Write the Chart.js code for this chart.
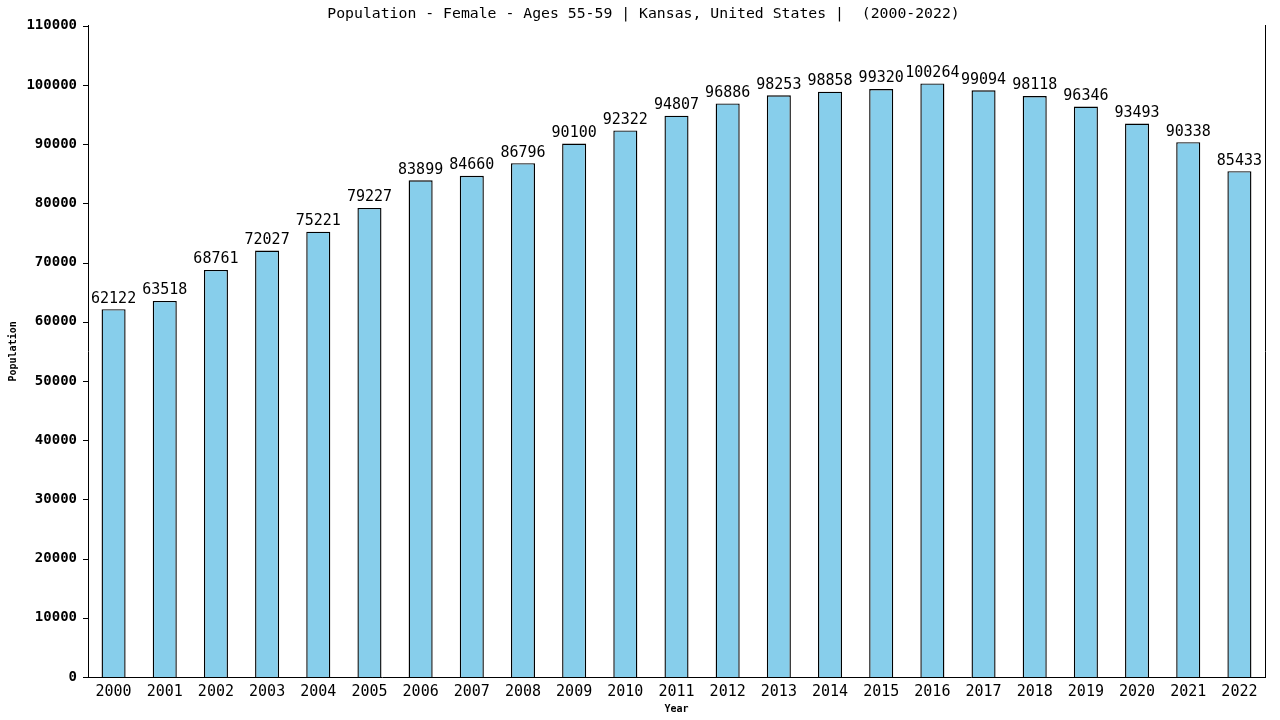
<!DOCTYPE html>
<html>
<head>
<meta charset="utf-8">
<script src="https://cdn.jsdelivr.net/npm/chart.js@4/dist/chart.umd.min.js"></script>
<style>
  html, body { margin: 0; padding: 0; background: #fff; }
  #wrap { width: 1280px; height: 720px; }
</style>
</head>
<body>
<div id="wrap"><canvas id="chart" width="1280" height="720"></canvas></div>
<script>
// data
const years = ['2000', '2001', '2002', '2003', '2004', '2005', '2006', '2007', '2008', '2009', '2010', '2011',
  '2012', '2013', '2014', '2015', '2016', '2017', '2018', '2019', '2020', '2021', '2022'];
const population = [62122, 63518, 68761, 72027, 75221, 79227, 83899, 84660, 86796, 90100, 92322, 94807,
  96886, 98253, 98858, 99320, 100264, 99094, 98118, 96346, 93493, 90338, 85433];
const yMax = 110000;
const yStep = 10000;

const mono = 'DejaVu Sans Mono, monospace';

// prints the value above each bar
const valueLabels = {
  id: 'valueLabels',
  afterDatasetsDraw(chart) {
    const ctx = chart.ctx;
    const meta = chart.getDatasetMeta(0);
    ctx.save();
    ctx.font = '15px ' + mono;
    ctx.fillStyle = '#000';
    ctx.textAlign = 'center';
    ctx.textBaseline = 'bottom';
    meta.data.forEach((bar, i) => {
      ctx.fillText(String(population[i]), bar.x, bar.y - 3);
    });
    ctx.restore();
  }
};

// small tick marks on the outside of the left axis
const yTickMarks = {
  id: 'yTickMarks',
  afterDraw(chart) {
    const ctx = chart.ctx;
    const y = chart.scales.y;
    const left = chart.chartArea.left;
    ctx.save();
    ctx.strokeStyle = '#000';
    ctx.lineWidth = 1;
    ctx.beginPath();
    y.ticks.forEach((t) => {
      const py = Math.round(y.getPixelForValue(t.value)) + 0.5;
      ctx.moveTo(left - 5, py);
      ctx.lineTo(left, py);
    });
    ctx.stroke();
    ctx.restore();
  }
};

const ctx = document.getElementById('chart').getContext('2d');
new Chart(ctx, {
  type: 'bar',
  data: {
    labels: years,
    datasets: [{
      data: population,
      backgroundColor: '#87CEEB',
      borderColor: '#000',
      borderWidth: 1.4,
      borderSkipped: 'bottom',
      barPercentage: 0.47,
      categoryPercentage: 1.0,
    }],
  },
  options: {
    responsive: false,
    devicePixelRatio: 1,
    animation: false,
    layout: { padding: { left: 7, bottom: 5 } },
    plugins: {
      legend: { display: false },
      tooltip: { enabled: false },
      title: {
        display: true,
        text: 'Population - Female - Ages 55-59 | Kansas, United States |  (2000-2022)',
        color: '#000',
        font: { family: mono, size: 14.8, weight: 'normal' },
        padding: { top: 5, bottom: 3 },
      },
    },
    scales: {
      x: {
        grid: { display: false, drawTicks: false },
        border: { display: true, color: '#000', width: 1 },
        ticks: { color: '#000', font: { family: mono, size: 15 }, padding: 6, maxRotation: 0, autoSkip: false },
        title: { display: true, text: 'Year', color: '#000', font: { family: mono, size: 10, weight: 'bold' }, padding: { top: 0, bottom: 0 } },
        afterFit: (s) => { s.height = 38; },
      },
      y: {
        min: 0,
        max: yMax,
        grid: { display: false },
        border: { display: true, color: '#000', width: 1 },
        ticks: {
          stepSize: yStep, color: '#000', padding: 3,
          font: { family: mono, size: 14, weight: 'bold' },
          callback: (v) => String(v),
        },
        title: { display: true, text: 'Population', color: '#000', font: { family: mono, size: 10, weight: 'bold' }, padding: { top: 0, bottom: 0 } },
        afterFit: (s) => { s.width = 81; },
      },
      yRight: {
        position: 'right',
        min: 0,
        max: yMax,
        grid: { display: false, drawTicks: false },
        border: { display: true, color: '#000', width: 1 },
        ticks: { display: false },
        afterFit: (s) => { s.width = 15; },
      },
    },
  },
  plugins: [valueLabels, yTickMarks],
});
</script>
</body>
</html>
